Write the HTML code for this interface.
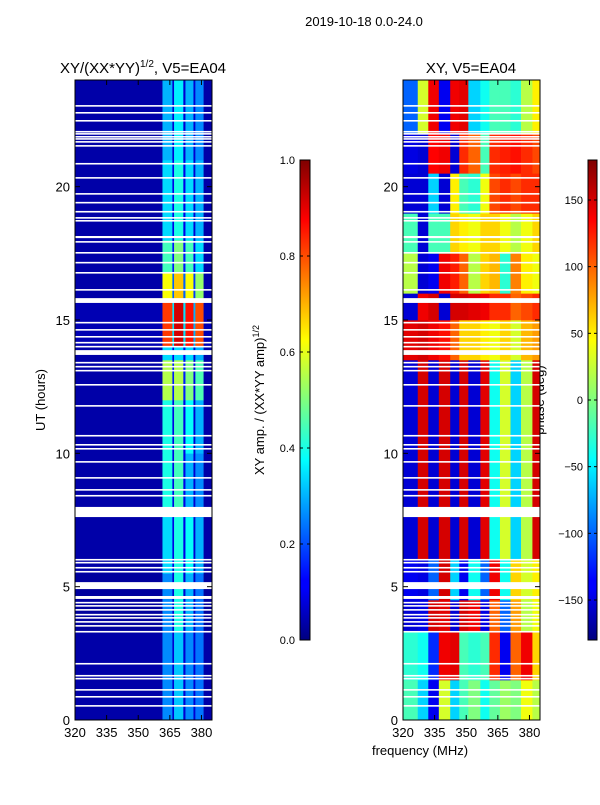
<!DOCTYPE html>
<html><head><meta charset="utf-8">
<style>
body{margin:0;background:#fff;}
svg text{font-family:"Liberation Sans",sans-serif;}
</style></head>
<body>
<svg id="fig" width="600" height="800" viewBox="0 0 600 800" xmlns="http://www.w3.org/2000/svg">
<defs>
<linearGradient id="jet" x1="0" y1="1" x2="0" y2="0">
<stop offset="0" stop-color="#00007f"/><stop offset="0.11" stop-color="#0000ff"/>
<stop offset="0.125" stop-color="#0000ff"/><stop offset="0.375" stop-color="#00ffff"/>
<stop offset="0.5" stop-color="#7fff7f"/><stop offset="0.625" stop-color="#ffff00"/>
<stop offset="0.875" stop-color="#ff0000"/><stop offset="1" stop-color="#7f0000"/>
</linearGradient>
</defs>
<text x="364" y="26" font-size="13" text-anchor="middle">2019-10-18 0.0-24.0</text>
<text x="143" y="73" font-size="15" text-anchor="middle">XY/(XX*YY)<tspan font-size="10" dy="-6">1/2</tspan><tspan dy="6">, V5=EA04</tspan></text>
<text x="471" y="73" font-size="15" text-anchor="middle">XY, V5=EA04</text>
<text x="45" y="400" font-size="13" text-anchor="middle" transform="rotate(-90 45 400)">UT (hours)</text>
<text x="420" y="755" font-size="13" text-anchor="middle">frequency (MHz)</text>
<text x="264" y="400" font-size="13" text-anchor="middle" transform="rotate(-90 264 400)">XY amp. / (XX*YY amp)<tspan font-size="9" dy="-5">1/2</tspan></text>
<text x="544" y="400" font-size="13" text-anchor="middle" transform="rotate(-90 544 400)">phase (deg)</text>
<g id="layer"></g>
</svg>
<script>
// ---- data ----
const ampFreqEdges = [320,361.5,366.2,367,371.4,372.4,376.2,377.1,381,385];
const ampTimeEdges = [0,3.3,5.5,7.6,8,10,12,13.5,14,15.8,16.8,18,21,24];
const ampRow0 = [.04,.26,.08,.32,.08,.26,.08,.24,.04];
const ampRow1 = [.03,.26,.08,.4,.08,.3,.07,.24,.03];
const ampRow2 = [.04,.34,.1,.4,.1,.38,.08,.3,.04];
const ampRow3 = [.04,.34,.1,.4,.1,.34,.08,.26,.04];
const ampRow4 = [.04,.4,.1,.44,.1,.3,.08,.26,.04];
const ampRow5 = [.04,.4,.1,.44,.1,.38,.08,.3,.04];
const ampRow6 = [.04,.55,.15,.55,.15,.5,.1,.45,.04];
const ampRow7 = [.04,.34,.1,.34,.1,.34,.08,.3,.04];
const ampRow8 = [.05,.82,.35,.92,.35,.86,.3,.8,.05];
const ampRow9 = [.04,.62,.22,.68,.22,.62,.18,.52,.04];
const ampRow10 = [.04,.44,.14,.5,.14,.44,.1,.34,.04];
const ampRow11 = [.04,.34,.1,.4,.1,.34,.08,.3,.04];
const ampRow12 = [.04,.3,.08,.36,.08,.3,.08,.26,.04];
const ampRows = [ampRow0,ampRow1,ampRow2,ampRow3,ampRow4,ampRow5,ampRow6,ampRow7,ampRow8,ampRow9,ampRow10,ampRow11,ampRow12];

const phFreqEdges = [320,327,332,337,342.4,346.7,351,356.7,361,366,371,376,381.4,385];
const phTimeEdges = [0,1.5,3.3,4.5,6,13.5,15,16,17.5,19,20.5,22,24];
const phRow0 = [-20,-60,-140,30,-60,-20,0,-40,-10,10,0,40,20];
const phRow1 = [-30,-40,-120,140,145,-20,-30,-20,120,-140,100,140,60];
const phRow2 = [-150,-145,150,145,-150,150,140,-145,100,-100,80,20,40];
const phRow3 = [-140,-145,-100,150,-60,-140,-40,-100,140,-40,60,30,50];
const phRow4 = [-150,150,-150,150,-150,150,-150,145,-40,30,-60,20,150];
const phRow5 = [145,150,140,130,100,60,60,50,40,60,30,70,80];
const phRow6 = [-150,140,150,-150,150,150,145,140,120,120,100,110,120];
const phRow7 = [20,-150,-140,140,125,100,20,60,70,-30,90,50,40];
const phRow8 = [-20,-150,-20,-20,60,50,40,60,60,40,20,40,60];
const phRow9 = [-150,-150,-60,-150,50,-20,-30,40,110,120,110,120,120];
const phRow10 = [-145,-150,135,140,-150,120,100,-20,120,125,130,120,110];
const phRow11 = [-100,30,140,-140,140,145,-60,-40,-20,-20,-30,20,50];
const phRows = [phRow0,phRow1,phRow2,phRow3,phRow4,phRow5,phRow6,phRow7,phRow8,phRow9,phRow10,phRow11];

const flagStart = [0.5,0.84,1.1,1.52,1.63,2.08,3.28,3.5,3.65,3.8,3.92,4.1,4.25,4.37,4.54,4.91,5.53,5.68,5.87,5.98,7.61,8.38,8.6,9.05,9.65,10.14,10.29,10.63,11.75,12.54,13.07,13.22,13.37,13.69,13.97,14.12,14.34,14.6,14.87,15.64,16.1,16.74,17.12,17.49,17.9,18.07,18.69,18.8,19.03,19.37,19.7,20.3,20.83,21.5,21.65,21.76,21.84,21.95,22.03,22.44,22.74,23.0];
const flagDur = [0.06,0.06,0.06,0.06,0.06,0.06,0.06,0.06,0.06,0.06,0.06,0.06,0.06,0.06,0.11,0.26,0.06,0.06,0.06,0.06,0.38,0.06,0.06,0.06,0.06,0.06,0.06,0.06,0.06,0.06,0.06,0.06,0.06,0.18,0.06,0.06,0.06,0.06,0.06,0.18,0.06,0.06,0.06,0.06,0.06,0.08,0.06,0.06,0.06,0.06,0.06,0.06,0.06,0.06,0.06,0.06,0.06,0.06,0.06,0.06,0.06,0.06];

const timeTicks = [0,5,10,15,20];
const freqTicks = [320,335,350,365,380];
const ampTicks = [0.0,0.2,0.4,0.6,0.8,1.0];
const phaseTicks = [-150,-100,-50,0,50,100,150];

// ---- helpers ----
const NS = "http://www.w3.org/2000/svg";
const layer = document.getElementById('layer');
function mk(tag, attrs){const e=document.createElementNS(NS,tag);for(const k in attrs)e.setAttribute(k,attrs[k]);layer.appendChild(e);return e;}
function jet(v){v=Math.max(0,Math.min(1,v));const c=x=>Math.round(255*Math.max(0,Math.min(1,1.5-Math.abs(4*v-x))));return `rgb(${c(3)},${c(2)},${c(1)})`;}
const F0=320,F1=385,T0=0,T1=24;
function panel(x0,x1,y0,y1){
  return {fx:f=>x0+(f-F0)/(F1-F0)*(x1-x0), ty:t=>y1-(t-T0)/(T1-T0)*(y1-y0), x0,x1,y0,y1};
}
const P1 = panel(75,212,80,720);
const P2 = panel(403,540,80,720);

function drawGrid(P, fEdges, tEdges, rows, norm, name){
  for(let i=0;i<rows.length;i++){
    for(let j=0;j<rows[i].length;j++){
      const xa=P.fx(fEdges[j]), xb=P.fx(fEdges[j+1]);
      const ya=P.ty(tEdges[i+1]), yb=P.ty(tEdges[i]);
      const r=mk('rect',{x:xa,y:ya,width:xb-xa+0.3,height:yb-ya+0.3,fill:jet(norm(rows[i][j]))});
      
      
    }
  }
  for(let k=0;k<flagStart.length;k++){
    const ya=P.ty(flagStart[k]+flagDur[k]), yb=P.ty(flagStart[k]);
    const r=mk('rect',{x:P.x0,y:ya,width:P.x1-P.x0,height:Math.max(1.2,yb-ya),fill:'#fff'});
    
    
  }
  const fr=mk('rect',{x:P.x0,y:P.y0,width:P.x1-P.x0,height:P.y1-P.y0,fill:'none',stroke:'#000','stroke-width':1});
  
  
  for(const t of timeTicks){
    const y=P.ty(t);
    mk('line',{x1:P.x0,x2:P.x0+5,y1:y,y2:y,stroke:'#000'});
    mk('line',{x1:P.x1,x2:P.x1-5,y1:y,y2:y,stroke:'#000'});
    const tx=mk('text',{x:P.x0-5,y:y+5,'font-size':13,'text-anchor':'end'});
    tx.textContent=t;
    
    
  }
  for(const f of freqTicks){
    const x=P.fx(f);
    mk('line',{x1:x,x2:x,y1:P.y1,y2:P.y1-5,stroke:'#000'});
    mk('line',{x1:x,x2:x,y1:P.y0,y2:P.y0+5,stroke:'#000'});
    const tx=mk('text',{x:x,y:P.y1+17,'font-size':13,'text-anchor':'middle'});
    tx.textContent=f;
    
    
  }
}
drawGrid(P1, ampFreqEdges, ampTimeEdges, ampRows, v=>v, 'amp-heatmap');
drawGrid(P2, phFreqEdges, phTimeEdges, phRows, v=>(v+180)/360, 'phase-heatmap');

function colorbar(x,w,y0,y1,ticks,lo,hi,fmt,name){
  const r=mk('rect',{x:x,y:y0,width:w,height:y1-y0,fill:'url(#jet)',stroke:'#000','stroke-width':1});
  
  
  for(const t of ticks){
    const y=y1-(t-lo)/(hi-lo)*(y1-y0);
    mk('line',{x1:x,x2:x+3,y1:y,y2:y,stroke:'#000'});
    mk('line',{x1:x+w,x2:x+w-3,y1:y,y2:y,stroke:'#000'});
    const tx=mk('text',{x:x-5,y:y+4,'font-size':11,'text-anchor':'end'});
    tx.textContent=fmt(t);
    
    
  }
}
colorbar(300,10,160,640,ampTicks,0,1,t=>t.toFixed(1),'amp-colorbar');
colorbar(588,9,160,640,phaseTicks,-180,180,t=>(t<0?'\u2212'+(-t):''+t),'phase-colorbar');
</script>
</body></html>
